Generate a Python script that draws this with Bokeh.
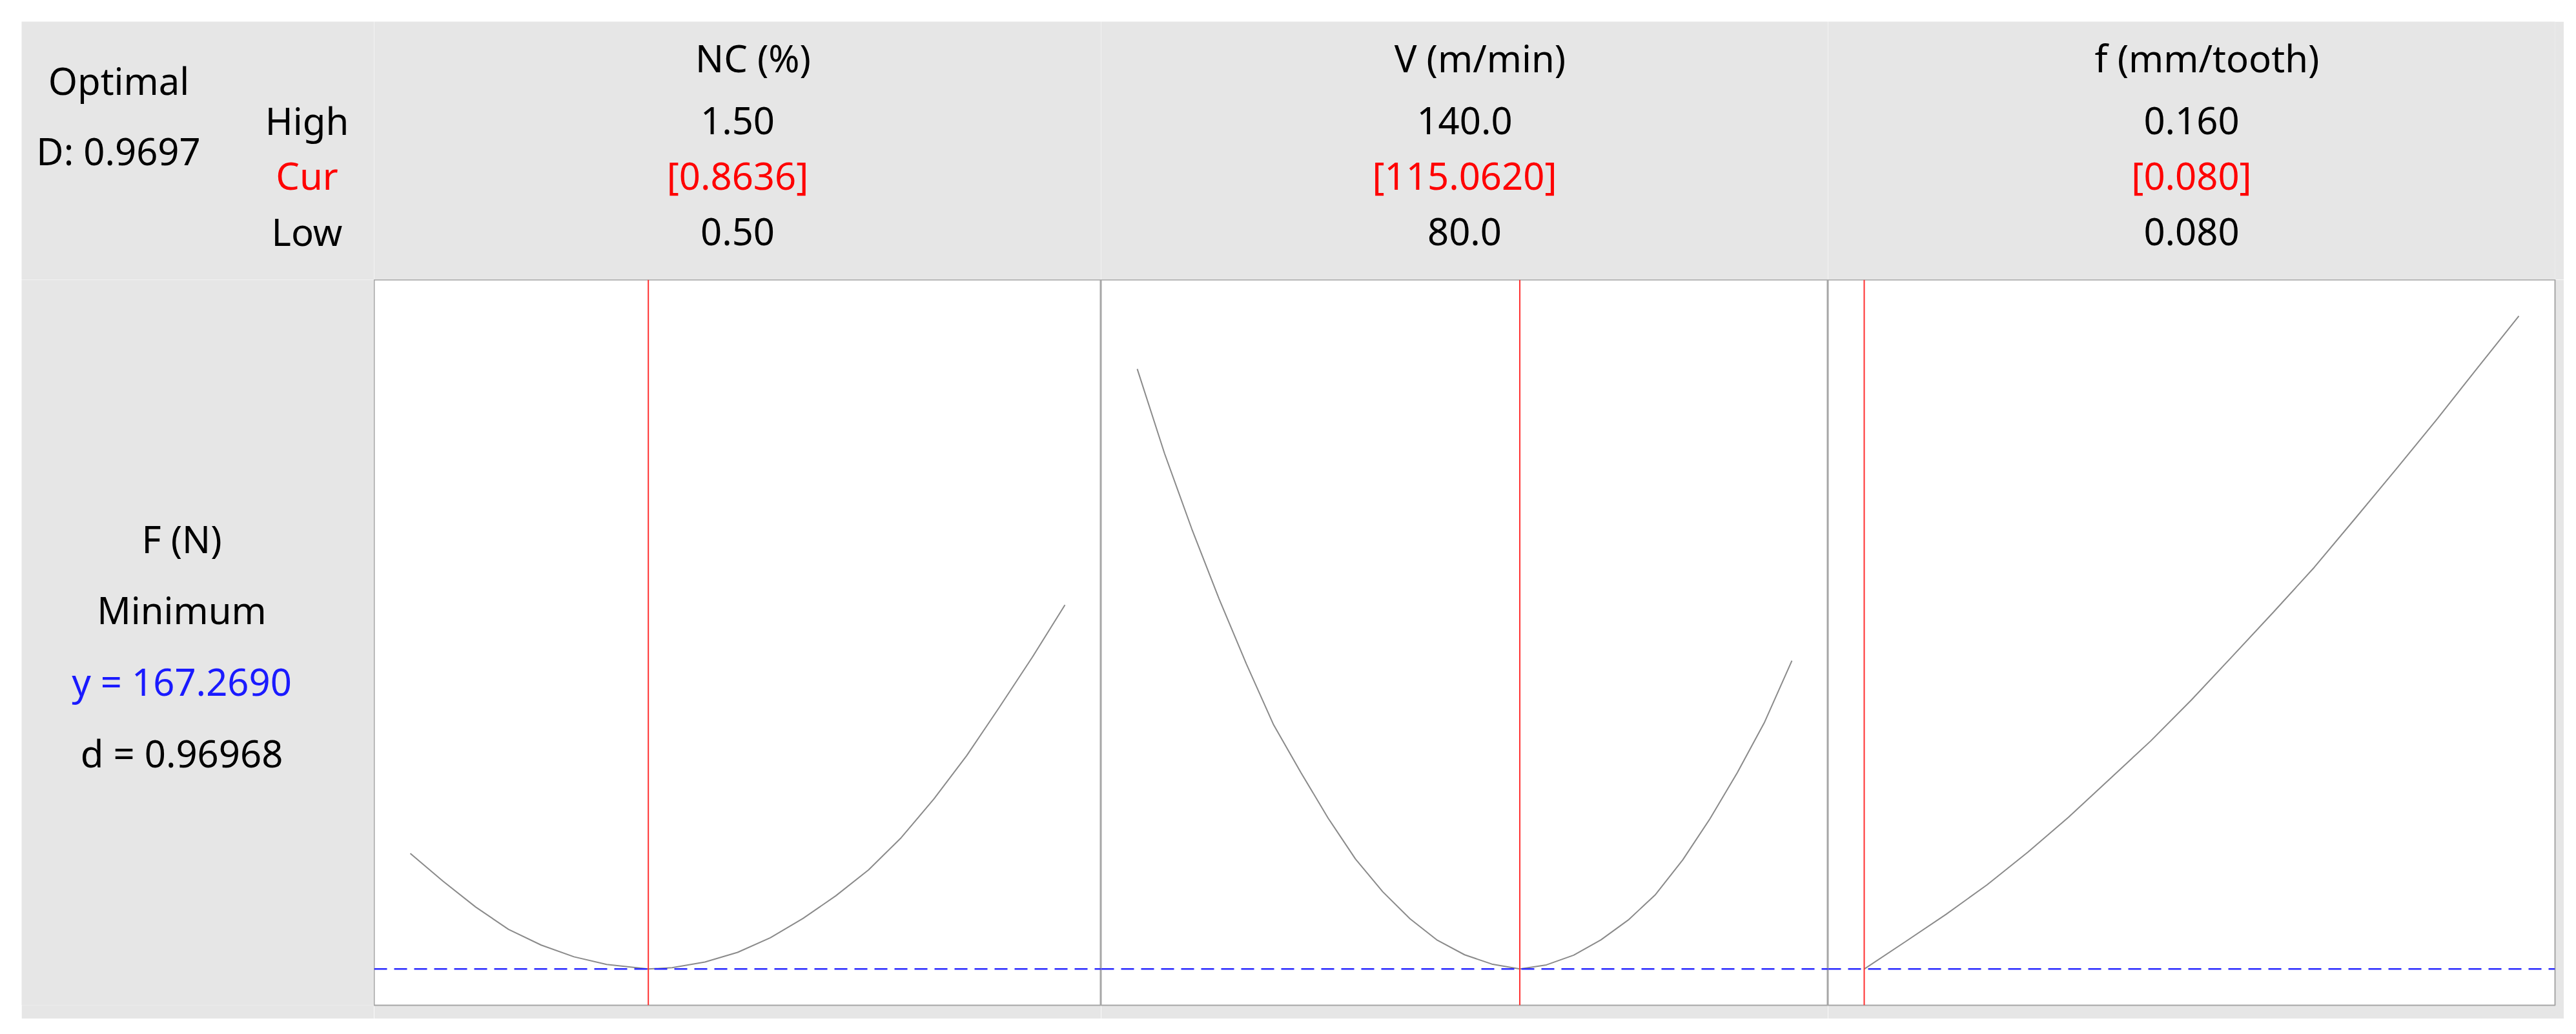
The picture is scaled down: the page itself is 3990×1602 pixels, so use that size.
from bokeh.plotting import figure
from bokeh.layouts import gridplot
from bokeh.models import Range1d, Span
from bokeh.core.properties import value
from bokeh.embed import file_html
from bokeh.resources import INLINE

# ---------------- data ----------------
factors = ["NC (%)", "V (m/min)", "f (mm/tooth)"]
high_labels = ["1.50", "140.0", "0.160"]
cur_labels = ["[0.8636]", "[115.0620]", "[0.080]"]
low_labels = ["0.50", "80.0", "0.080"]
lows = [0.5, 80.0, 0.08]
highs = [1.5, 140.0, 0.16]
curs = [0.8636, 115.0620, 0.080]

nc_x = [0.5, 0.55, 0.6, 0.65, 0.7, 0.75, 0.8, 0.8636, 0.9, 0.95, 1.0, 1.05,
        1.1, 1.15, 1.2, 1.25, 1.3, 1.35, 1.4, 1.45, 1.5]
nc_F = [195.9, 189.0, 182.6, 177.1, 173.2, 170.3, 168.4, 167.269, 167.6, 169.0,
        171.4, 175.0, 179.8, 185.4, 191.8, 199.8, 209.4, 220.1, 232.1, 244.4, 257.4]
v_x = [80, 82.5, 85, 87.5, 90, 92.5, 95, 97.5, 100, 102.5, 105, 107.5, 110, 112.5,
       115.062, 117.5, 120, 122.5, 125, 127.5, 130, 132.5, 135, 137.5, 140]
v_F = [315.8, 294.9, 276.2, 258.9, 242.8, 227.7, 215.9, 204.6, 194.5, 186.4, 179.7,
       174.4, 170.8, 168.5, 167.269, 168.3, 170.7, 174.5, 179.4, 185.7, 194.3, 204.5,
       215.9, 228.4, 243.6]
f_x = [0.08, 0.085, 0.09, 0.095, 0.10, 0.105, 0.11, 0.115, 0.12, 0.125, 0.13,
       0.135, 0.14, 0.145, 0.15, 0.155, 0.16]
f_F = [167.269, 174.0, 180.8, 188.1, 196.2, 204.9, 214.3, 223.7, 233.9, 244.7,
       255.6, 266.7, 278.8, 291.0, 303.4, 316.2, 328.9]

curves_x = [nc_x, v_x, f_x]
curves_y = [nc_F, v_F, f_F]

composite_label = ["Optimal", "D: 0.9697"]
row_labels = ["High", "Cur", "Low"]
response_labels = ["F (N)", "Minimum", "y = 167.2690", "d = 0.96968"]
y_opt = 167.2690

# ---------------- style / layout ----------------
BG = "#e6e6e6"
FONT = "Noto Sans"
FS = "58px"
BLACK = "#000000"
RED = "#ff0000"
BLUE = "#1a1aff"

W_LEFT = 546
W_PANEL = 1126
EXTRA_R = 14
H_HEAD = 400
H_BODY = 1145
B_BOTTOM = 21
PADX = 56 / 1014
PADY = 0.0555

Y_TITLE, Y_HIGH, Y_CUR, Y_LOW = 56, 153, 238, 325


def base(width, height, xr, yr, mbr=0, mbb=0, bg=BG, outline=None):
    p = figure(width=width, height=height, x_range=xr, y_range=yr, title=None,
               output_backend="svg", toolbar_location=None, tools="",
               x_axis_location=None, y_axis_location=None,
               min_border_left=0, min_border_right=mbr, min_border_top=0,
               min_border_bottom=mbb, background_fill_color=bg,
               border_fill_color=BG, outline_line_color=outline)
    p.grid.grid_line_color = None
    return p


ymin = min(min(c) for c in curves_y)
ymax = max(max(c) for c in curves_y)
yspan = ymax - ymin
yr = Range1d(ymin - PADY * yspan, ymax + PADY * yspan)

# header-left
hl = base(W_LEFT, H_HEAD, Range1d(0, W_LEFT), Range1d(H_HEAD, 0))
hl.text(x=[150.5, 150], y=[91, 200], text=composite_label, text_color=BLACK,
        text_align="center", text_baseline="alphabetic",
        text_font=value(FONT), text_font_size=FS)
hl.text(x=[442, 442, 442], y=[Y_HIGH, Y_CUR, Y_LOW], text=row_labels,
        text_color=[BLACK, RED, BLACK], text_align="center",
        text_baseline="alphabetic", text_font=value(FONT), text_font_size=FS)

# side (response info)
side = base(W_LEFT, H_BODY, Range1d(0, W_LEFT), Range1d(H_BODY, 0))
side.text(x=[248] * 4, y=[408, 521, 634, 747], text=response_labels,
          text_color=[BLACK, BLACK, BLUE, BLACK], text_align="center",
          text_baseline="alphabetic", text_font=value(FONT), text_font_size=FS)

heads, panels = [], []
for i in range(3):
    lo, hi = lows[i], highs[i]
    sp = hi - lo
    xr = Range1d(lo - PADX * sp, hi + PADX * sp)
    mbr = EXTRA_R if i == 2 else 0
    w = W_PANEL + mbr

    h = base(w, H_HEAD, xr, Range1d(H_HEAD, 0), mbr=mbr)
    mid = (lo + hi) / 2
    h.text(x=[mid], y=[Y_TITLE], text=[factors[i]], text_color=BLACK,
           text_align="center", text_baseline="alphabetic", x_offset=24,
           text_font=value(FONT), text_font_size=FS)
    h.text(x=[mid] * 3, y=[Y_HIGH, Y_CUR, Y_LOW],
           text=[high_labels[i], cur_labels[i], low_labels[i]],
           text_color=[BLACK, RED, BLACK], text_align="center",
           text_baseline="alphabetic", text_font=value(FONT), text_font_size=FS)
    heads.append(h)

    p = base(w, H_BODY, xr, yr, mbr=mbr, mbb=B_BOTTOM, bg="#ffffff",
             outline="#a6a6a6")
    p.outline_line_width = 2
    p.line(curves_x[i], curves_y[i], line_color="#8a8a8a", line_width=2)
    p.add_layout(Span(location=curs[i], dimension="height",
                      line_color="#ff3030", line_width=2))
    p.add_layout(Span(location=y_opt, dimension="width",
                      line_color="#2a2aff", line_width=2.5, line_dash="20 11"))
    panels.append(p)

grid = gridplot([[hl] + heads, [side] + panels], toolbar_location=None)
grid.margin = (33, 0, 0, 33)

open("out.html", "w").write(file_html(grid, INLINE))
